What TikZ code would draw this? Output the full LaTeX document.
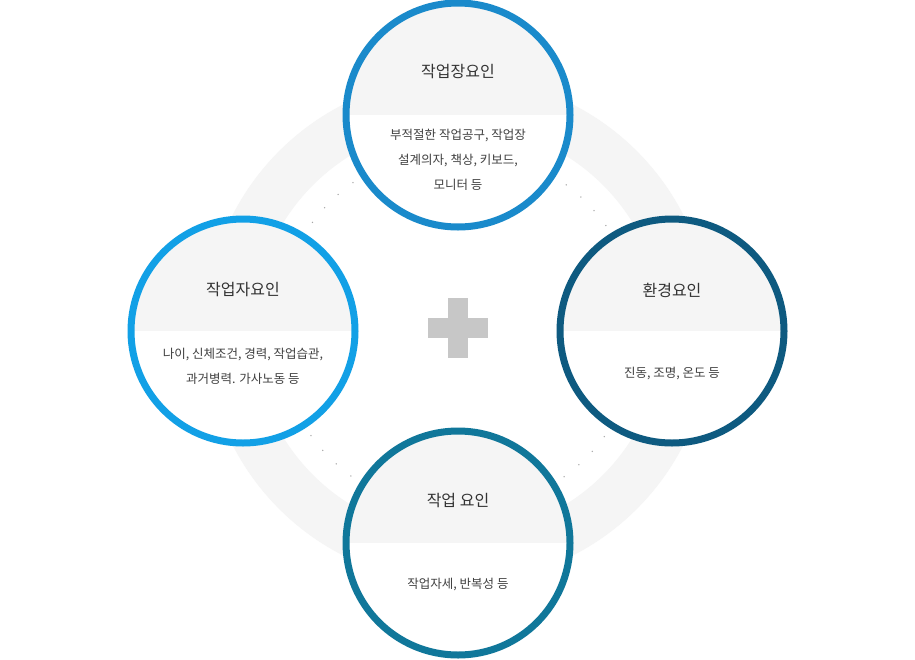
\documentclass[tikz,border=0pt]{standalone}
\usepackage{fontspec}
\setmainfont{Noto Sans CJK KR}
\begin{document}
\begin{tikzpicture}[x=1pt,y=-1pt,
  fac/.style={line width=7pt},
  ttl/.style={font=\fontsize{16}{19}\selectfont, text=black!80},
  body/.style={font=\fontsize{12.5}{25}\selectfont, text=black!75, align=center}]
\definecolor{cT}{HTML}{1A8ACB}
\definecolor{cL}{HTML}{12A0E6}
\definecolor{cR}{HTML}{0E5A80}
\definecolor{cB}{HTML}{10779A}
\useasboundingbox (0,0) rectangle (915,659);
\fill[white] (0,0) rectangle (915,659);
\fill[black!4, even odd rule] (458,330) circle (253) (458,330) circle (205);
\draw[black!35, line width=1.5pt, dash pattern=on 0pt off 19pt, line cap=round] (458,330) circle (181);
\fill[black!22] (428,318) rectangle (488,338);
\fill[black!22] (448,298) rectangle (468,358);
\foreach \n/\x/\y/\c in {T/458/115/cT, L/243/331/cL, R/672/331/cR, B/458/543/cB}{
  \begin{scope}
    \clip (\x,\y) circle (112);
    \fill[white] (\x,\y) circle (112);
    \fill[black!4] (\x-115,\y-115) rectangle (\x+115,\y);
  \end{scope}
  \draw[fac, \c] (\x,\y) circle (112);
}
\node[ttl] (tT) at (458,72) {작업장요인};
\node[body] (bT) at (458,160) {부적절한 작업공구, 작업장\\설계의자, 책상, 키보드,\\모니터 등};
\node[ttl] (tL) at (243,290) {작업자요인};
\node[body] (bL) at (243,366) {나이, 신체조건, 경력, 작업습관,\\과거병력. 가사노동 등};
\node[ttl] (tR) at (672,290) {환경요인};
\node[body] (bR) at (672,374) {진동, 조명, 온도 등};
\node[ttl] (tB) at (458,500) {작업 요인};
\node[body] (bB) at (458,585) {작업자세, 반복성 등};
\end{tikzpicture}
\end{document}
